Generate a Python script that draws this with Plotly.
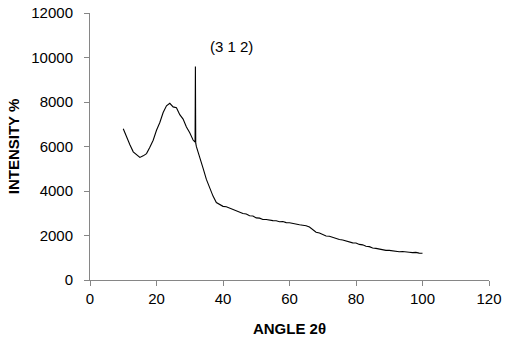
import plotly.graph_objects as go

angle = [10, 11, 12, 13, 14, 15, 16, 17, 18, 19, 20, 21, 22, 23, 24, 25, 26, 27, 28, 29, 30, 31,
         31.6, 31.7, 31.8, 32, 33, 34, 35, 36, 37, 38, 39, 40, 41, 42, 43, 44, 45, 46, 47, 48, 49,
         50, 51, 52, 53, 54, 55, 56, 57, 58, 59, 60, 61, 62, 63, 64, 65, 66, 67, 68, 69, 70, 71,
         72, 73, 74, 75, 76, 77, 78, 79, 80, 81, 82, 83, 84, 85, 86, 87, 88, 89, 90, 91, 92, 93,
         94, 95, 96, 97, 98, 99, 100]
intensity = [6800, 6420, 6080, 5760, 5620, 5510, 5580, 5680, 5970, 6280, 6730, 7080, 7530, 7830, 7940, 7780,
             7740, 7430, 7230, 6880, 6620, 6290,
             6200, 9600, 6150, 5990, 5560, 5030, 4520, 4130, 3770, 3480, 3400, 3310, 3290, 3230, 3200,
             3110, 3080, 2990, 2970, 2890, 2880, 2790, 2780, 2720, 2720, 2680, 2670, 2660, 2620, 2630,
             2580, 2570, 2530, 2520, 2480, 2460, 2440, 2380, 2270, 2150, 2110, 2050, 1980, 1970, 1910,
             1880, 1820, 1800, 1750, 1730, 1670, 1660, 1600, 1580, 1520, 1500, 1440, 1420, 1380, 1370,
             1330, 1330, 1300, 1300, 1270, 1280, 1250, 1250, 1230, 1240, 1210, 1200]

x_ticks = [0, 20, 40, 60, 80, 100, 120]
y_ticks = [0, 2000, 4000, 6000, 8000, 10000, 12000]
peak_label = "(3 1 2)"
peak_pos = (42.5, 10500)

font_family = "Liberation Sans, Arial, sans-serif"

fig = go.Figure()
fig.add_trace(go.Scatter(x=angle, y=intensity, mode="lines",
                         line=dict(color="black", width=1.1), showlegend=False))
fig.add_annotation(x=peak_pos[0], y=peak_pos[1], text=peak_label, showarrow=False,
                   font=dict(size=15, color="black", family=font_family))

axis_common = dict(showgrid=False, zeroline=False, showline=True, linecolor="#868686",
                   linewidth=1, ticks="outside", tickcolor="#868686", ticklen=5,
                   automargin=False,
                   tickfont=dict(size=15, color="black", family=font_family))

fig.update_layout(
    width=511, height=345,
    margin=dict(l=90, r=22, t=13, b=65),
    paper_bgcolor="white", plot_bgcolor="white",
    xaxis=dict(range=[0, 120], tickvals=x_ticks, ticktext=[str(v) for v in x_ticks],
               title=dict(text="<b>ANGLE 2θ</b>", font=dict(size=15, color="black", family=font_family), standoff=17),
               **axis_common),
    yaxis=dict(range=[0, 12000], tickvals=y_ticks, ticktext=[str(v) for v in y_ticks], ticklabelstandoff=8,
               title=dict(text="<b>INTENSITY %</b>", font=dict(size=15, color="black", family=font_family), standoff=8),
               **axis_common),
)
fig.write_html("out.html", config={"displayModeBar": False},
               post_script="document.body.style.margin='0';")
